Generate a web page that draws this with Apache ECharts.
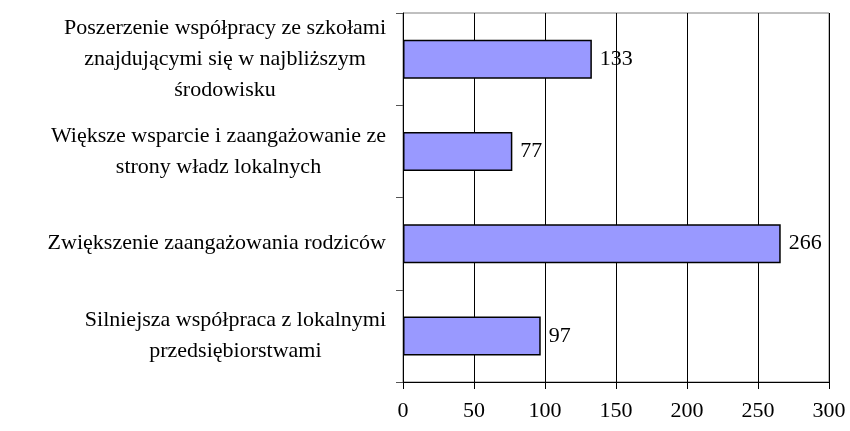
<!DOCTYPE html>
<html>
<head>
<meta charset="utf-8">
<script src="https://cdn.jsdelivr.net/npm/echarts@6/dist/echarts.min.js"></script>
<style>html,body{margin:0;padding:0;background:#fff;}#c{width:850px;height:431px;}</style>
</head>
<body>
<div id="c"></div>
<script>
const categories = [
  "Poszerzenie współpracy ze szkołami\nznajdującymi się w najbliższym\nśrodowisku",
  "Większe wsparcie i zaangażowanie ze\nstrony władz lokalnych",
  "Zwiększenie zaangażowania rodziców",
  "Silniejsza współpraca z lokalnymi\nprzedsiębiorstwami"
];
const values = [133, 77, 266, 97];
const xTicks = [0, 50, 100, 150, 200, 250, 300];

const FONT = '"Liberation Serif", "Times New Roman", serif';
const chart = echarts.init(document.getElementById('c'), null, {renderer: 'canvas'});
chart.setOption({
  animation: false,
  backgroundColor: '#fff',
  grid: {left: 403, right: 21, top: 13, bottom: 49, show: true, borderColor: '#808080', borderWidth: 1, backgroundColor: 'transparent'},
  xAxis: {
    type: 'value', min: xTicks[0], max: xTicks[xTicks.length - 1], interval: 50,
    axisLine: {show: true, lineStyle: {color: '#000', width: 1}},
    axisTick: {show: true, length: 7, lineStyle: {color: '#000'}},
    axisLabel: {color: '#000', fontFamily: FONT, fontSize: 22, margin: 18},
    splitLine: {show: true, lineStyle: {color: '#000', width: 1}}
  },
  yAxis: {
    type: 'category', data: categories, inverse: true,
    axisLine: {show: true, lineStyle: {color: '#000', width: 1}},
    axisTick: {show: true, length: 7, lineStyle: {color: '#555'}},
    axisLabel: {
      color: '#000', margin: 17, align: 'right',
      formatter: function (v) { return v.split('\n').map(function (l) { return '{c|' + l + '}'; }).join('\n'); },
      rich: {c: {align: 'center', fontFamily: FONT, fontSize: 22, lineHeight: 31, color: '#000'}}
    },
    splitLine: {show: false}
  },
  series: [{
    type: 'bar', data: values, barWidth: 39,
    itemStyle: {color: '#9999FF', borderColor: '#000', borderWidth: 1.5},
    label: {show: true, position: 'right', distance: 8, color: '#000', fontFamily: FONT, fontSize: 22}
  }]
});
</script>
</body>
</html>
